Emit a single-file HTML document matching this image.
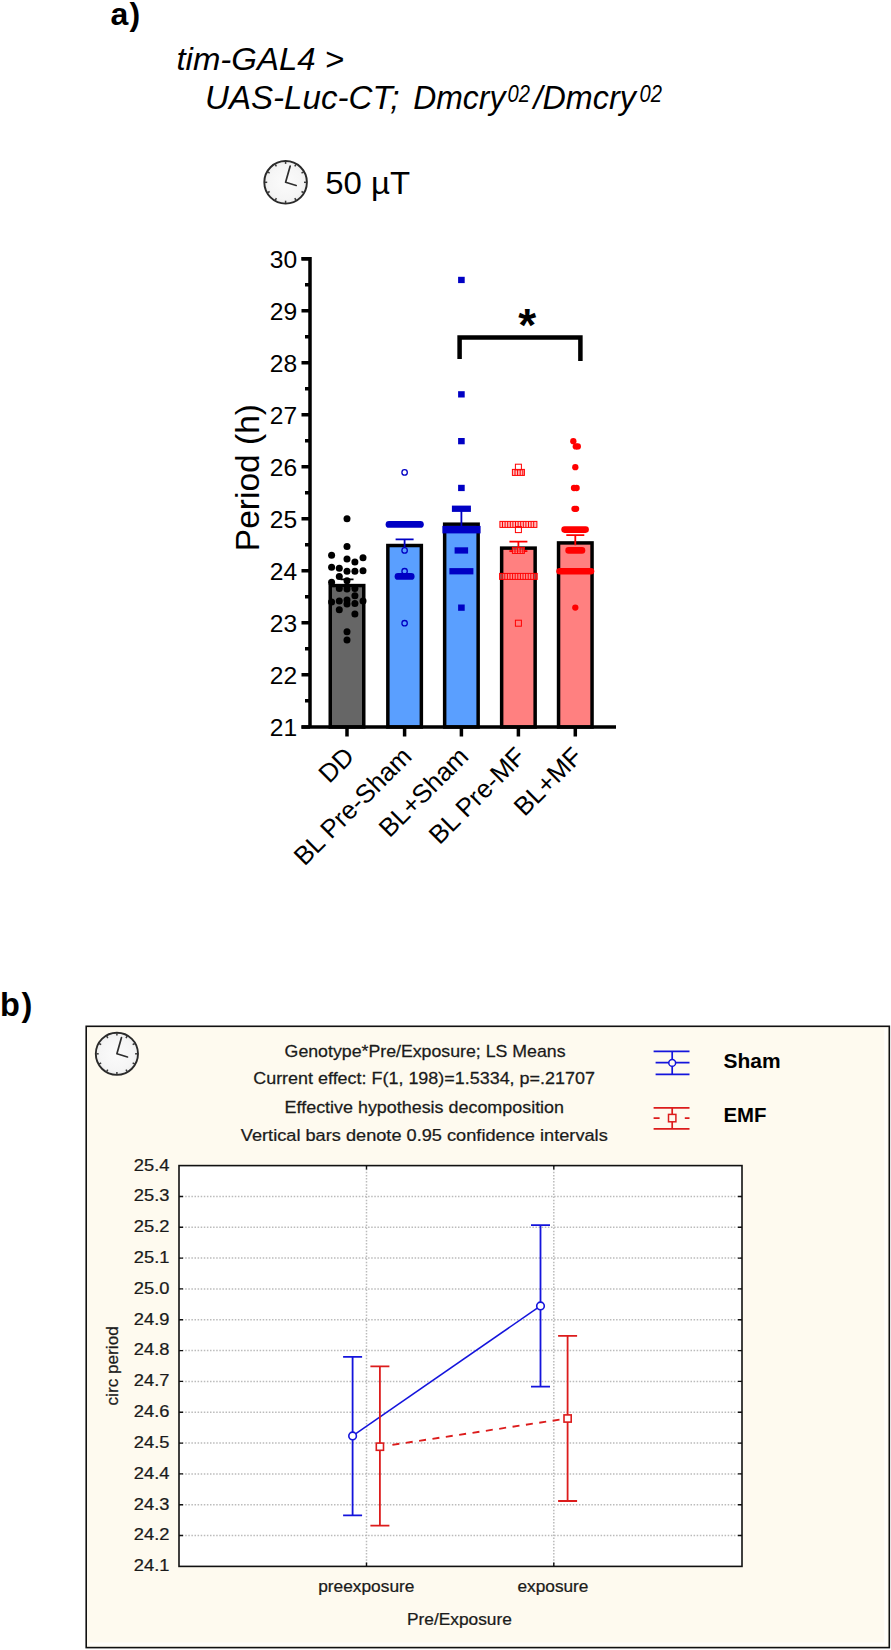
<!DOCTYPE html>
<html><head><meta charset="utf-8"><title>Figure</title>
<style>html,body{margin:0;padding:0;background:#fff}svg{display:block}</style></head>
<body>
<svg width="891" height="1650" viewBox="0 0 891 1650">
<defs><radialGradient id="cg" cx="50%" cy="50%" r="50%"><stop offset="0" stop-color="#fbfbfb"/><stop offset="0.8" stop-color="#f5f5f5"/><stop offset="1" stop-color="#ececec"/></radialGradient></defs>
<rect width="891" height="1650" fill="#fff"/>
<g font-family="'Liberation Sans', sans-serif" fill="#000">
<text x="110.4" y="25.2" font-family="'Liberation Sans', sans-serif" font-size="32" font-weight="bold" letter-spacing="1.3">a)</text>
<text transform="translate(176.40,70.2) scale(1.0806,1)" font-family="'Liberation Sans', sans-serif" font-size="30.5" fill="#000" font-style="italic">tim-GAL4 &gt;</text>
<text transform="translate(205.00,109.2) scale(1.0258,1)" font-family="'Liberation Sans', sans-serif" font-size="32.3" fill="#000" font-style="italic">UAS-Luc-CT;</text>
<text transform="translate(413.20,109.2) scale(0.9892,1)" font-family="'Liberation Sans', sans-serif" font-size="32.3" fill="#000" font-style="italic">Dmcry</text>
<text transform="translate(507.60,102) scale(0.8774,1)" font-family="'Liberation Sans', sans-serif" font-size="23" fill="#000" font-style="italic">02</text>
<text transform="translate(533.54,109.2) scale(1.0005,1)" font-family="'Liberation Sans', sans-serif" font-size="32.3" fill="#000" font-style="italic">/Dmcry</text>
<text transform="translate(639.60,102) scale(0.8774,1)" font-family="'Liberation Sans', sans-serif" font-size="23" fill="#000" font-style="italic">02</text>
<text transform="translate(325.20,194.3) scale(1.0291,1)" font-family="'Liberation Sans', sans-serif" font-size="32" fill="#000">50 µT</text>
</g>
<g transform="translate(285.6,182.3)"><circle r="21.3" fill="url(#cg)" stroke="#2a2a2a" stroke-width="1.9"/><line x1="0.00" y1="-20.80" x2="0.00" y2="-18.40" stroke="#3a3a3a" stroke-width="1.5"/><line x1="10.40" y1="-18.01" x2="9.20" y2="-15.93" stroke="#3a3a3a" stroke-width="1.5"/><line x1="18.01" y1="-10.40" x2="15.93" y2="-9.20" stroke="#3a3a3a" stroke-width="1.5"/><line x1="20.80" y1="-0.00" x2="18.40" y2="-0.00" stroke="#3a3a3a" stroke-width="1.5"/><line x1="18.01" y1="10.40" x2="15.93" y2="9.20" stroke="#3a3a3a" stroke-width="1.5"/><line x1="10.40" y1="18.01" x2="9.20" y2="15.93" stroke="#3a3a3a" stroke-width="1.5"/><line x1="0.00" y1="20.80" x2="0.00" y2="18.40" stroke="#3a3a3a" stroke-width="1.5"/><line x1="-10.40" y1="18.01" x2="-9.20" y2="15.93" stroke="#3a3a3a" stroke-width="1.5"/><line x1="-18.01" y1="10.40" x2="-15.93" y2="9.20" stroke="#3a3a3a" stroke-width="1.5"/><line x1="-20.80" y1="0.00" x2="-18.40" y2="0.00" stroke="#3a3a3a" stroke-width="1.5"/><line x1="-18.01" y1="-10.40" x2="-15.93" y2="-9.20" stroke="#3a3a3a" stroke-width="1.5"/><line x1="-10.40" y1="-18.01" x2="-9.20" y2="-15.93" stroke="#3a3a3a" stroke-width="1.5"/><polyline points="4.6,-16.3 0,0 10.6,3.2" fill="none" stroke="#2e2e2e" stroke-width="1.7" stroke-linecap="round" stroke-linejoin="round"/></g>
<rect x="330.25" y="585.58" width="33.50" height="141.42" fill="#666666" stroke="#000" stroke-width="3.5"/>
<rect x="387.85" y="545.52" width="33.50" height="181.48" fill="#5a9fff" stroke="#000" stroke-width="3.5"/>
<rect x="444.65" y="524.19" width="33.50" height="202.81" fill="#5a9fff" stroke="#000" stroke-width="3.5"/>
<rect x="501.65" y="548.12" width="33.50" height="178.88" fill="#ff8080" stroke="#000" stroke-width="3.5"/>
<rect x="558.55" y="542.92" width="33.50" height="184.08" fill="#ff8080" stroke="#000" stroke-width="3.5"/>
<path d="M301.5 258.7H310.0 M310.0 256.95V728.75 M301.5 727.0H616" fill="none" stroke="#000" stroke-width="3.5"/>
<path d="M301.5 258.70H310.0 M305.0 284.71H310.0 M301.5 310.72H310.0 M305.0 336.73H310.0 M301.5 362.74H310.0 M305.0 388.75H310.0 M301.5 414.76H310.0 M305.0 440.77H310.0 M301.5 466.78H310.0 M305.0 492.79H310.0 M301.5 518.80H310.0 M305.0 544.81H310.0 M301.5 570.82H310.0 M305.0 596.83H310.0 M301.5 622.84H310.0 M305.0 648.85H310.0 M301.5 674.86H310.0 M305.0 700.87H310.0 M301.5 726.88H310.0 M347.00 727.0V736.5 M404.60 727.0V736.5 M461.40 727.0V736.5 M518.40 727.0V736.5 M575.30 727.0V736.5 " fill="none" stroke="#000" stroke-width="3.5"/>
<g font-family="'Liberation Sans', sans-serif" fill="#000" font-size="24.6" text-anchor="end">
<text x="297.2" y="267.50">30</text>
<text x="297.2" y="319.52">29</text>
<text x="297.2" y="371.54">28</text>
<text x="297.2" y="423.56">27</text>
<text x="297.2" y="475.58">26</text>
<text x="297.2" y="527.60">25</text>
<text x="297.2" y="579.62">24</text>
<text x="297.2" y="631.64">23</text>
<text x="297.2" y="683.66">22</text>
<text x="297.2" y="735.68">21</text>
</g>
<text transform="translate(258.7,477.6) rotate(-90)" font-family="'Liberation Sans', sans-serif" font-size="33.5" text-anchor="middle">Period (h)</text>
<text transform="translate(355.6,758.0) rotate(-45)" font-family="'Liberation Sans', sans-serif" font-size="25.8" text-anchor="end">DD</text>
<text transform="translate(413.2,758.0) rotate(-45)" font-family="'Liberation Sans', sans-serif" font-size="25.8" text-anchor="end">BL Pre-Sham</text>
<text transform="translate(470.0,758.0) rotate(-45)" font-family="'Liberation Sans', sans-serif" font-size="25.8" text-anchor="end">BL+Sham</text>
<text transform="translate(527.0,758.0) rotate(-45)" font-family="'Liberation Sans', sans-serif" font-size="25.8" text-anchor="end">BL Pre-MF</text>
<text transform="translate(583.9,758.0) rotate(-45)" font-family="'Liberation Sans', sans-serif" font-size="25.8" text-anchor="end">BL+MF</text>
<path d="M347.0 579.40V587.83 M340.5 579.40H353.5" fill="none" stroke="#000" stroke-width="1.8"/>
<circle cx="347.0" cy="518.8" r="3.5" fill="#000"/>
<circle cx="347.0" cy="546.4" r="3.5" fill="#000"/>
<circle cx="331.6" cy="555.2" r="3.5" fill="#000"/>
<circle cx="347.0" cy="558.9" r="3.5" fill="#000"/>
<circle cx="363.0" cy="557.8" r="3.5" fill="#000"/>
<circle cx="354.9" cy="562.0" r="3.5" fill="#000"/>
<circle cx="331.6" cy="567.2" r="3.5" fill="#000"/>
<circle cx="339.3" cy="568.2" r="3.5" fill="#000"/>
<circle cx="347.0" cy="571.3" r="3.5" fill="#000"/>
<circle cx="354.9" cy="571.3" r="3.5" fill="#000"/>
<circle cx="363.0" cy="570.8" r="3.5" fill="#000"/>
<circle cx="339.3" cy="576.5" r="3.5" fill="#000"/>
<circle cx="347.0" cy="580.7" r="3.5" fill="#000"/>
<circle cx="331.6" cy="582.3" r="3.5" fill="#000"/>
<circle cx="339.3" cy="588.5" r="3.5" fill="#000"/>
<circle cx="347.0" cy="589.0" r="3.5" fill="#000"/>
<circle cx="354.9" cy="588.5" r="3.5" fill="#000"/>
<circle cx="354.9" cy="595.8" r="3.5" fill="#000"/>
<circle cx="331.6" cy="602.0" r="3.5" fill="#000"/>
<circle cx="339.3" cy="601.0" r="3.5" fill="#000"/>
<circle cx="347.0" cy="600.0" r="3.5" fill="#000"/>
<circle cx="363.0" cy="601.0" r="3.5" fill="#000"/>
<circle cx="347.0" cy="604.1" r="3.5" fill="#000"/>
<circle cx="354.9" cy="603.6" r="3.5" fill="#000"/>
<circle cx="339.3" cy="609.8" r="3.5" fill="#000"/>
<circle cx="354.9" cy="614.0" r="3.5" fill="#000"/>
<circle cx="347.0" cy="631.7" r="3.5" fill="#000"/>
<circle cx="347.0" cy="640.0" r="3.5" fill="#000"/>
<path d="M404.6 539.35V547.77 M395.6 539.35H413.6" fill="none" stroke="#0000c4" stroke-width="1.8"/>
<circle cx="404.6" cy="472.4" r="2.7" fill="none" stroke="#0000c4" stroke-width="1.3"/>
<rect x="385.6" y="521.0" width="38.2" height="6.8" rx="3.4" fill="#0000c4"/>
<circle cx="404.6" cy="550.4" r="2.7" fill="none" stroke="#0000c4" stroke-width="1.3"/>
<circle cx="404.6" cy="571.2" r="2.7" fill="none" stroke="#0000c4" stroke-width="1.3"/>
<rect x="394.6" y="573.0" width="20.0" height="6.8" rx="3.4" fill="#0000c4"/>
<circle cx="404.6" cy="623.2" r="2.7" fill="none" stroke="#0000c4" stroke-width="1.3"/>
<path d="M461.4 508.92V526.44 M452.4 508.92H470.4" fill="none" stroke="#0000c4" stroke-width="1.8"/>
<rect x="458.1" y="276.8" width="6.6" height="6.3" fill="#0000c4"/>
<rect x="458.1" y="391.2" width="6.6" height="6.3" fill="#0000c4"/>
<rect x="458.1" y="438.0" width="6.6" height="6.3" fill="#0000c4"/>
<rect x="458.1" y="484.8" width="6.6" height="6.3" fill="#0000c4"/>
<rect x="458.1" y="604.5" width="6.6" height="6.3" fill="#0000c4"/>
<rect x="451.9" y="505.6" width="19.0" height="6.3" fill="#0000c4"/>
<rect x="442.4" y="525.9" width="38.2" height="7.5" fill="#0000c4"/>
<rect x="454.6" y="547.3" width="13.5" height="6.3" fill="#0000c4"/>
<rect x="449.4" y="568.1" width="24.0" height="6.3" fill="#0000c4"/>
<path d="M518.4 541.69V551.05 M509.4 541.69H527.4 M509.4 551.05H527.4" fill="none" stroke="#ff0000" stroke-width="1.8"/>
<rect x="515.4" y="464.2" width="6" height="6" fill="none" stroke="#ff0000" stroke-width="1"/>
<rect x="512.4" y="469.4" width="12.0" height="6" fill="#ff9090" fill-opacity="0.6" stroke="#ff0000" stroke-width="1"/><path d="M515.0 469.4v6 M517.6 469.4v6 M520.2 469.4v6 M522.8 469.4v6 " stroke="#ff0000" stroke-width="1" fill="none"/>
<rect x="499.9" y="521.4" width="37.0" height="6" fill="#ff9090" fill-opacity="0.6" stroke="#ff0000" stroke-width="1"/><path d="M502.5 521.4v6 M505.1 521.4v6 M507.7 521.4v6 M510.3 521.4v6 M512.9 521.4v6 M515.5 521.4v6 M518.1 521.4v6 M520.7 521.4v6 M523.3 521.4v6 M525.9 521.4v6 M528.5 521.4v6 M531.1 521.4v6 M533.7 521.4v6 " stroke="#ff0000" stroke-width="1" fill="none"/>
<rect x="515.4" y="526.6" width="6" height="6" fill="none" stroke="#ff0000" stroke-width="1"/>
<rect x="512.4" y="547.4" width="12.0" height="6" fill="#ff9090" fill-opacity="0.6" stroke="#ff0000" stroke-width="1"/><path d="M515.0 547.4v6 M517.6 547.4v6 M520.2 547.4v6 M522.8 547.4v6 " stroke="#ff0000" stroke-width="1" fill="none"/>
<rect x="499.6" y="573.4" width="37.6" height="6" fill="#ff9090" fill-opacity="0.6" stroke="#ff0000" stroke-width="1"/><path d="M502.2 573.4v6 M504.8 573.4v6 M507.4 573.4v6 M510.0 573.4v6 M512.6 573.4v6 M515.2 573.4v6 M517.8 573.4v6 M520.4 573.4v6 M523.0 573.4v6 M525.6 573.4v6 M528.2 573.4v6 M530.8 573.4v6 M533.4 573.4v6 M536.0 573.4v6 " stroke="#ff0000" stroke-width="1" fill="none"/>
<rect x="515.4" y="620.2" width="6" height="6" fill="none" stroke="#ff0000" stroke-width="1"/>
<path d="M575.3 535.19V545.17 M566.3 535.19H584.3" fill="none" stroke="#ff0000" stroke-width="1.8"/>
<circle cx="573.3" cy="441.2" r="3.15" fill="#ff0000"/>
<circle cx="575.8" cy="446.4" r="3.15" fill="#ff0000"/>
<circle cx="577.8" cy="446.4" r="3.15" fill="#ff0000"/>
<circle cx="575.3" cy="467.2" r="3.15" fill="#ff0000"/>
<circle cx="574.0" cy="488.0" r="3.15" fill="#ff0000"/>
<circle cx="576.6" cy="488.0" r="3.15" fill="#ff0000"/>
<circle cx="574.5" cy="508.8" r="3.15" fill="#ff0000"/>
<circle cx="576.1" cy="508.8" r="3.15" fill="#ff0000"/>
<rect x="561.3" y="526.3" width="27.6" height="6.6" rx="3.3" fill="#ff0000"/>
<rect x="565.3" y="547.1" width="20.0" height="6.6" rx="3.3" fill="#ff0000"/>
<rect x="556.3" y="567.9" width="38.0" height="6.6" rx="3.3" fill="#ff0000"/>
<circle cx="575.3" cy="607.6" r="3.15" fill="#ff0000"/>
<path d="M459.6 359V337.4H580.4V361" fill="none" stroke="#000" stroke-width="4.5"/>
<text x="527.2" y="340.6" font-family="'Liberation Sans', sans-serif" font-size="46" font-weight="bold" text-anchor="middle">*</text>
<text x="0" y="1016" font-family="'Liberation Sans', sans-serif" font-size="32.5" font-weight="bold" letter-spacing="1.6">b)</text>
<rect x="86.2" y="1026.3" width="803.0999999999999" height="621.3" fill="#fefaef" stroke="#111" stroke-width="1.6"/>
<path d="M885.8 1028.3V1644.1H88.2" fill="none" stroke="#fffefb" stroke-width="3"/>
<g transform="translate(116.9,1053.8)"><circle r="21.1" fill="url(#cg)" stroke="#2a2a2a" stroke-width="1.9"/><line x1="0.00" y1="-20.60" x2="0.00" y2="-18.20" stroke="#3a3a3a" stroke-width="1.5"/><line x1="10.30" y1="-17.84" x2="9.10" y2="-15.76" stroke="#3a3a3a" stroke-width="1.5"/><line x1="17.84" y1="-10.30" x2="15.76" y2="-9.10" stroke="#3a3a3a" stroke-width="1.5"/><line x1="20.60" y1="-0.00" x2="18.20" y2="-0.00" stroke="#3a3a3a" stroke-width="1.5"/><line x1="17.84" y1="10.30" x2="15.76" y2="9.10" stroke="#3a3a3a" stroke-width="1.5"/><line x1="10.30" y1="17.84" x2="9.10" y2="15.76" stroke="#3a3a3a" stroke-width="1.5"/><line x1="0.00" y1="20.60" x2="0.00" y2="18.20" stroke="#3a3a3a" stroke-width="1.5"/><line x1="-10.30" y1="17.84" x2="-9.10" y2="15.76" stroke="#3a3a3a" stroke-width="1.5"/><line x1="-17.84" y1="10.30" x2="-15.76" y2="9.10" stroke="#3a3a3a" stroke-width="1.5"/><line x1="-20.60" y1="0.00" x2="-18.20" y2="0.00" stroke="#3a3a3a" stroke-width="1.5"/><line x1="-17.84" y1="-10.30" x2="-15.76" y2="-9.10" stroke="#3a3a3a" stroke-width="1.5"/><line x1="-10.30" y1="-17.84" x2="-9.10" y2="-15.76" stroke="#3a3a3a" stroke-width="1.5"/><polyline points="4.6,-16.3 0,0 10.6,3.2" fill="none" stroke="#2e2e2e" stroke-width="1.7" stroke-linecap="round" stroke-linejoin="round"/></g>
<rect x="179.0" y="1165.6" width="563.0" height="400.8000000000002" fill="#fff"/>
<path d="M179.0 1196.43H742.0 M179.0 1227.26H742.0 M179.0 1258.09H742.0 M179.0 1288.92H742.0 M179.0 1319.75H742.0 M179.0 1350.58H742.0 M179.0 1381.42H742.0 M179.0 1412.25H742.0 M179.0 1443.08H742.0 M179.0 1473.91H742.0 M179.0 1504.74H742.0 M179.0 1535.57H742.0 M366.5 1165.6V1566.4 M553.8 1165.6V1566.4 " fill="none" stroke="#bbbbbb" stroke-width="1.5" stroke-dasharray="1.5 1.6"/>
<path d="M179.0 1196.43h4 M742.0 1196.43h-4 M179.0 1227.26h4 M742.0 1227.26h-4 M179.0 1258.09h4 M742.0 1258.09h-4 M179.0 1288.92h4 M742.0 1288.92h-4 M179.0 1319.75h4 M742.0 1319.75h-4 M179.0 1350.58h4 M742.0 1350.58h-4 M179.0 1381.42h4 M742.0 1381.42h-4 M179.0 1412.25h4 M742.0 1412.25h-4 M179.0 1443.08h4 M742.0 1443.08h-4 M179.0 1473.91h4 M742.0 1473.91h-4 M179.0 1504.74h4 M742.0 1504.74h-4 M179.0 1535.57h4 M742.0 1535.57h-4 M366.5 1566.4v-4 M366.5 1165.6v4 M553.8 1566.4v-4 M553.8 1165.6v4 " fill="none" stroke="#111" stroke-width="1.4"/>
<rect x="179.0" y="1165.6" width="563.0" height="400.8000000000002" fill="none" stroke="#111" stroke-width="1.6"/>
<text transform="translate(133.80,1170.5) scale(1.0895,1)" font-family="'Liberation Sans', sans-serif" font-size="16.8" fill="#1a1a1a" stroke="#1a1a1a" stroke-width="0.25">25.4</text>
<text transform="translate(133.80,1201.33) scale(1.0895,1)" font-family="'Liberation Sans', sans-serif" font-size="16.8" fill="#1a1a1a" stroke="#1a1a1a" stroke-width="0.25">25.3</text>
<text transform="translate(133.80,1232.16) scale(1.0895,1)" font-family="'Liberation Sans', sans-serif" font-size="16.8" fill="#1a1a1a" stroke="#1a1a1a" stroke-width="0.25">25.2</text>
<text transform="translate(133.80,1262.99) scale(1.0895,1)" font-family="'Liberation Sans', sans-serif" font-size="16.8" fill="#1a1a1a" stroke="#1a1a1a" stroke-width="0.25">25.1</text>
<text transform="translate(133.80,1293.82) scale(1.0895,1)" font-family="'Liberation Sans', sans-serif" font-size="16.8" fill="#1a1a1a" stroke="#1a1a1a" stroke-width="0.25">25.0</text>
<text transform="translate(133.80,1324.65) scale(1.0895,1)" font-family="'Liberation Sans', sans-serif" font-size="16.8" fill="#1a1a1a" stroke="#1a1a1a" stroke-width="0.25">24.9</text>
<text transform="translate(133.80,1355.48) scale(1.0895,1)" font-family="'Liberation Sans', sans-serif" font-size="16.8" fill="#1a1a1a" stroke="#1a1a1a" stroke-width="0.25">24.8</text>
<text transform="translate(133.80,1386.32) scale(1.0895,1)" font-family="'Liberation Sans', sans-serif" font-size="16.8" fill="#1a1a1a" stroke="#1a1a1a" stroke-width="0.25">24.7</text>
<text transform="translate(133.80,1417.15) scale(1.0895,1)" font-family="'Liberation Sans', sans-serif" font-size="16.8" fill="#1a1a1a" stroke="#1a1a1a" stroke-width="0.25">24.6</text>
<text transform="translate(133.80,1447.98) scale(1.0895,1)" font-family="'Liberation Sans', sans-serif" font-size="16.8" fill="#1a1a1a" stroke="#1a1a1a" stroke-width="0.25">24.5</text>
<text transform="translate(133.80,1478.81) scale(1.0895,1)" font-family="'Liberation Sans', sans-serif" font-size="16.8" fill="#1a1a1a" stroke="#1a1a1a" stroke-width="0.25">24.4</text>
<text transform="translate(133.80,1509.64) scale(1.0895,1)" font-family="'Liberation Sans', sans-serif" font-size="16.8" fill="#1a1a1a" stroke="#1a1a1a" stroke-width="0.25">24.3</text>
<text transform="translate(133.80,1540.47) scale(1.0895,1)" font-family="'Liberation Sans', sans-serif" font-size="16.8" fill="#1a1a1a" stroke="#1a1a1a" stroke-width="0.25">24.2</text>
<text transform="translate(133.80,1571.3) scale(1.0895,1)" font-family="'Liberation Sans', sans-serif" font-size="16.8" fill="#1a1a1a" stroke="#1a1a1a" stroke-width="0.25">24.1</text>
<text transform="translate(284.60,1056.8) scale(1.0564,1)" font-family="'Liberation Sans', sans-serif" font-size="16.8" fill="#1a1a1a" stroke="#1a1a1a" stroke-width="0.25">Genotype*Pre/Exposure; LS Means</text>
<text transform="translate(253.20,1084.4) scale(1.0680,1)" font-family="'Liberation Sans', sans-serif" font-size="16.8" fill="#1a1a1a" stroke="#1a1a1a" stroke-width="0.25">Current effect: F(1, 198)=1.5334, p=.21707</text>
<text transform="translate(284.60,1112.8) scale(1.0665,1)" font-family="'Liberation Sans', sans-serif" font-size="16.8" fill="#1a1a1a" stroke="#1a1a1a" stroke-width="0.25">Effective hypothesis decomposition</text>
<text transform="translate(240.80,1141) scale(1.0831,1)" font-family="'Liberation Sans', sans-serif" font-size="16.8" fill="#1a1a1a" stroke="#1a1a1a" stroke-width="0.25">Vertical bars denote 0.95 confidence intervals</text>
<text transform="translate(318.20,1592.3) scale(1.0310,1)" font-family="'Liberation Sans', sans-serif" font-size="16.8" fill="#1a1a1a" stroke="#1a1a1a" stroke-width="0.25">preexposure</text>
<text transform="translate(517.50,1592.3) scale(1.0270,1)" font-family="'Liberation Sans', sans-serif" font-size="16.8" fill="#1a1a1a" stroke="#1a1a1a" stroke-width="0.25">exposure</text>
<text transform="translate(407.00,1625) scale(1.0314,1)" font-family="'Liberation Sans', sans-serif" font-size="16.8" fill="#1a1a1a" stroke="#1a1a1a" stroke-width="0.25">Pre/Exposure</text>
<g transform="translate(118.1,1365.8) rotate(-90)"><text transform="translate(-39.70,0) scale(1.0620,1)" font-family="'Liberation Sans', sans-serif" font-size="16.2" fill="#1a1a1a" stroke="#1a1a1a" stroke-width="0.25">circ period</text></g>
<path d="M352.6 1435.9L540.5 1305.9" stroke="#1414dc" stroke-width="1.5" fill="none"/>
<path d="M392.4 1444.8L563.6 1419.1" stroke="#dc1c1c" stroke-width="1.8" fill="none" stroke-dasharray="7 6.5"/>
<path d="M352.6 1356.9V1515.3 M343.1 1356.9h19 M343.1 1515.3h19" stroke="#1414dc" stroke-width="1.8" fill="none"/>
<circle cx="352.6" cy="1435.9" r="3.8" fill="#fff" stroke="#1414dc" stroke-width="1.6"/>
<path d="M379.9 1366.3V1525.7 M370.4 1366.3h19 M370.4 1525.7h19" stroke="#dc1c1c" stroke-width="1.8" fill="none"/>
<rect x="376.29999999999995" y="1443.1000000000001" width="7.2" height="7.2" fill="#fff" stroke="#dc1c1c" stroke-width="1.6"/>
<path d="M540.5 1225.1V1386.7 M531.0 1225.1h19 M531.0 1386.7h19" stroke="#1414dc" stroke-width="1.8" fill="none"/>
<circle cx="540.5" cy="1305.9" r="3.8" fill="#fff" stroke="#1414dc" stroke-width="1.6"/>
<path d="M567.6 1335.9V1501.0 M558.1 1335.9h19 M558.1 1501.0h19" stroke="#dc1c1c" stroke-width="1.8" fill="none"/>
<rect x="564.0" y="1414.9" width="7.2" height="7.2" fill="#fff" stroke="#dc1c1c" stroke-width="1.6"/>
<path d="M653.6 1051.3H689.5 M655.6 1062.7H689.5 M655.6 1074.4H689.5 M672.2 1051.3V1074.4" stroke="#1414dc" stroke-width="1.7" fill="none"/>
<circle cx="672.2" cy="1062.9" r="3.4" fill="#fefaef" stroke="#1414dc" stroke-width="1.5"/>
<path d="M653.6 1107.9H689.5 M653.6 1128.8H689.5 M672.2 1107.9V1128.8" stroke="#dc1c1c" stroke-width="1.7" fill="none"/>
<path d="M653.6 1118.2h6 M684.8 1118.2h4.7" stroke="#dc1c1c" stroke-width="1.7" fill="none"/>
<rect x="668.5" y="1114.4" width="7.4" height="7.4" fill="#fefaef" stroke="#dc1c1c" stroke-width="1.5"/>
<text x="723.5" y="1067.7" font-family="'Liberation Sans', sans-serif" font-size="20" font-weight="bold" textLength="57" lengthAdjust="spacingAndGlyphs">Sham</text>
<text x="723.5" y="1121.6" font-family="'Liberation Sans', sans-serif" font-size="20" font-weight="bold" textLength="43" lengthAdjust="spacingAndGlyphs">EMF</text>
</svg>
</body></html>
